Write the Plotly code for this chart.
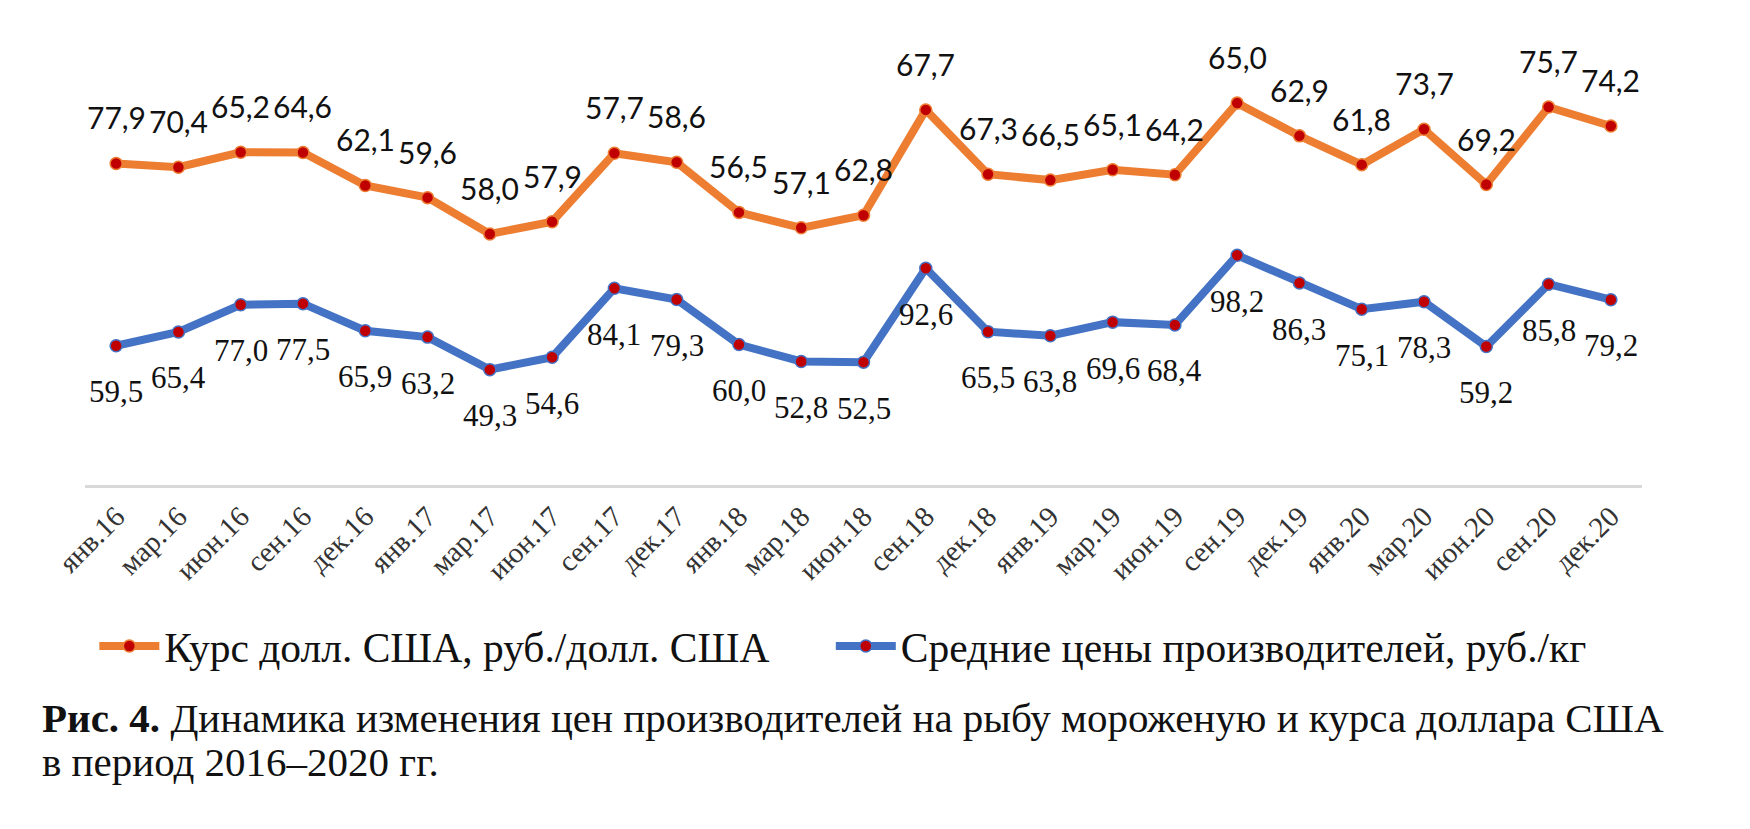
import plotly.graph_objects as go

categories = ["янв.16", "мар.16", "июн.16", "сен.16", "дек.16", "янв.17", "мар.17", "июн.17",
              "сен.17", "дек.17", "янв.18", "мар.18", "июн.18", "сен.18", "дек.18", "янв.19",
              "мар.19", "июн.19", "сен.19", "дек.19", "янв.20", "мар.20", "июн.20", "сен.20", "дек.20"]
usd_rate = [77.9, 70.4, 65.2, 64.6, 62.1, 59.6, 58.0, 57.9, 57.7, 58.6, 56.5, 57.1, 62.8,
            67.7, 67.3, 66.5, 65.1, 64.2, 65.0, 62.9, 61.8, 73.7, 69.2, 75.7, 74.2]
producer_price = [59.5, 65.4, 77.0, 77.5, 65.9, 63.2, 49.3, 54.6, 84.1, 79.3, 60.0, 52.8, 52.5,
                  92.6, 65.5, 63.8, 69.6, 68.4, 98.2, 86.3, 75.1, 78.3, 59.2, 85.8, 79.2]

name_usd = "Курс долл. США, руб./долл. США"
name_price = "Средние цены производителей, руб./кг"
caption1 = "<b>Рис. 4.</b> Динамика изменения цен производителей на рыбу мороженую и курса доллара США"
caption2 = "в период 2016–2020 гг."

def fmt(v):
    return f"{v:.1f}".replace(".", ",")

ORANGE = "#ED7D31"
BLUE = "#4472C4"
RED = "#C00000"

fig = go.Figure()
fig.add_trace(go.Scatter(
    x=categories, y=producer_price, name=name_price, stackgroup="s", fill="none",
    mode="lines+markers", line=dict(color=BLUE, width=8),
    marker=dict(color=RED, size=12, line=dict(color=BLUE, width=1.5)),
    legend="legend2",
))
fig.add_trace(go.Scatter(
    x=categories, y=usd_rate, name=name_usd, stackgroup="s", fill="none",
    mode="lines+markers", line=dict(color=ORANGE, width=8),
    marker=dict(color=RED, size=12, line=dict(color=ORANGE, width=1.5)),
    legend="legend",
))

stacked_top = [p + u for p, u in zip(producer_price, usd_rate)]
for c, p, top, u in zip(categories, producer_price, stacked_top, usd_rate):
    fig.add_annotation(x=c, y=top, text=fmt(u), showarrow=False, yshift=46,
                       font=dict(family="Lato", size=30, color="#111111"))
    fig.add_annotation(x=c, y=p, text=fmt(p), showarrow=False, yshift=-46,
                       font=dict(family="Liberation Serif", size=31, color="#111111"))

fig.add_annotation(xref="paper", yref="paper", x=-0.029, y=-0.498, xanchor="left", yanchor="middle",
                   text=caption1, showarrow=False,
                   font=dict(family="Liberation Serif", size=41, color="#111111"))
fig.add_annotation(xref="paper", yref="paper", x=-0.029, y=-0.592, xanchor="left", yanchor="middle",
                   text=caption2, showarrow=False,
                   font=dict(family="Liberation Serif", size=41, color="#111111"))

legend_font = dict(family="Liberation Serif", size=41.5, color="#111111")
fig.update_layout(
    width=1750, height=829,
    margin=dict(l=77, r=116, t=9, b=352),
    paper_bgcolor="white", plot_bgcolor="white",
    showlegend=True,
    legend=dict(orientation="h", x=0.006, y=-0.344, xanchor="left", yanchor="middle",
                font=legend_font, itemwidth=60, bgcolor="rgba(0,0,0,0)"),
    legend2=dict(orientation="h", x=0.479, y=-0.344, xanchor="left", yanchor="middle",
                 font=legend_font, itemwidth=60, bgcolor="rgba(0,0,0,0)"),
    xaxis=dict(type="category", range=[-0.5, len(categories) - 0.5], tickangle=-45,
               showgrid=False, zeroline=False,
               showline=True, linecolor="#D9D9D9", linewidth=3,
               ticks="", ticklabelstandoff=0,
               tickfont=dict(family="Liberation Serif", size=29, color="#333333")),
    yaxis=dict(range=[0, 200], visible=False, showgrid=False, zeroline=False),
)

fig.write_html("out.html")
